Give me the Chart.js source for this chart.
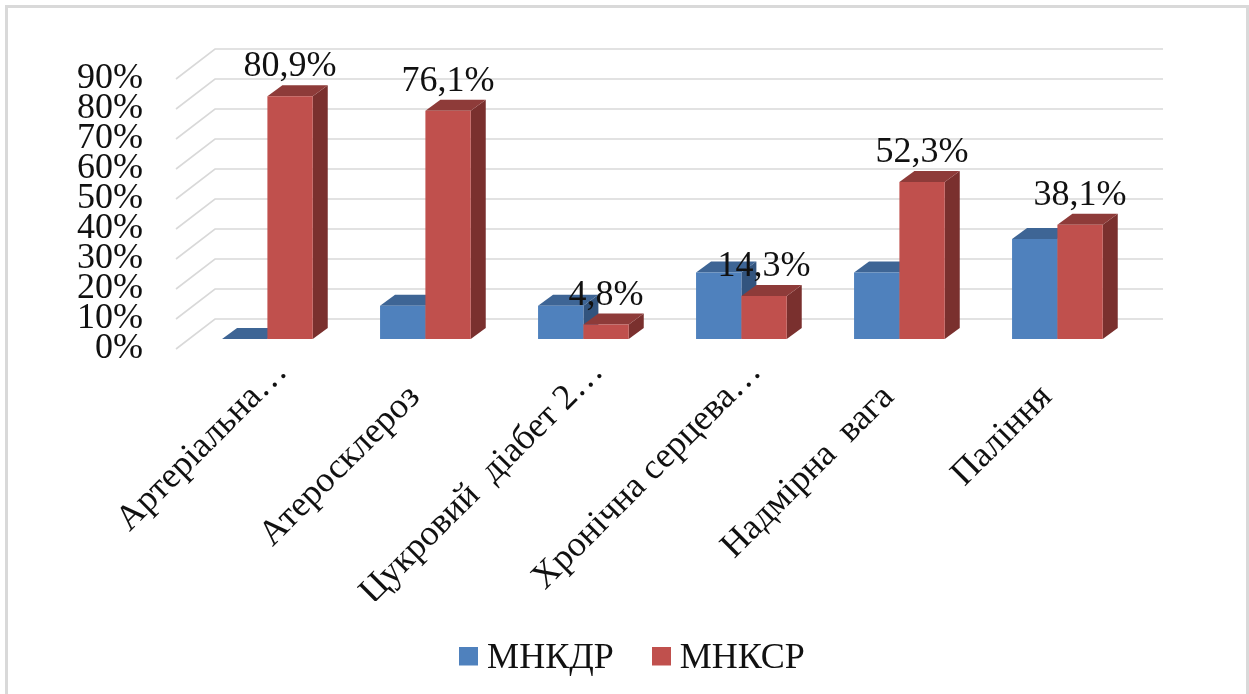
<!DOCTYPE html>
<html>
<head>
<meta charset="utf-8">
<title>МНКДР / МНКСР</title>
<script src="https://cdn.jsdelivr.net/npm/chart.js@4"></script>
<style>
    html, body { margin: 0; padding: 0; background: #fff; overflow: hidden; }
    #frame {
        position: absolute; left: 5px; top: 5px; width: 1238px; height: 689px;
        border: 3px solid #d9d9d9; border-bottom: none;
    }
    #myChart { position: absolute; left: 0; top: 0; }
</style>
</head>
<body>
<div id="frame"></div>
<canvas id="myChart" width="1249" height="694"></canvas>
<script>
const CATEGORIES = ['Артеріальна…', 'Атеросклероз', 'Цукровий  діабет 2…', 'Хронічна серцева…', 'Надмірна  вага', 'Паління'];
const MNKDR = [0, 11.1, 11.1, 22.2, 22.2, 33.3];
const MNKSR = [80.9, 76.1, 4.8, 14.3, 52.3, 38.1];

const FONT = 'Liberation Serif';
const TEXT_COLOR = '#111';

// depth of the 3d box: the wall goes back further than the bars stand
const WALL = { x: 39, y: -30 };
const BAR_SHIFT = { x: 12.4, y: -10 };
const BAR_DEPTH = { x: 15, y: -11 };

const FACES = [
    { top: '#3E6595', side: '#32547E' },
    { top: '#8E3B39', side: '#7A302E' }
];

function poly(ctx, color, pts) {
    ctx.fillStyle = color;
    ctx.beginPath();
    pts.forEach((p, i) => i ? ctx.lineTo(p[0], p[1]) : ctx.moveTo(p[0], p[1]));
    ctx.closePath();
    ctx.fill();
}

function drawFaces(ctx, meta, faces) {
    meta.data.forEach(bar => {
        const l = bar.x - bar.width / 2, r = bar.x + bar.width / 2;
        const dx = BAR_DEPTH.x, dy = BAR_DEPTH.y;
        poly(ctx, faces.side, [[r, bar.y], [r + dx, bar.y + dy], [r + dx, bar.base + dy], [r, bar.base]]);
        poly(ctx, faces.top, [[l, bar.y], [l + dx, bar.y + dy], [r + dx, bar.y + dy], [r, bar.y]]);
    });
}

// gridlines run along the floor side and then along the back wall
const wallPlugin = {
    id: 'wall',
    beforeDatasetsDraw(chart) {
        const { ctx, chartArea, scales } = chart;
        ctx.save();
        ctx.strokeStyle = '#d9d9d9';
        ctx.lineWidth = 1.6;
        scales.y.ticks.forEach(t => {
            const y = scales.y.getPixelForValue(t.value);
            ctx.beginPath();
            ctx.moveTo(chartArea.left, y);
            ctx.lineTo(chartArea.left + WALL.x, y + WALL.y);
            ctx.lineTo(chartArea.right + WALL.x, y + WALL.y);
            ctx.stroke();
        });
        ctx.restore();
    }
};

// chart.js paints the first dataset last, here the blue bars have to go
// under the red ones, so the red dataset is held back and painted afterwards
const boxPlugin = {
    id: 'box',
    beforeDatasetDraw(chart, args) {
        if (args.index === 1) return false;
        const { ctx } = chart;
        ctx.save();
        ctx.translate(BAR_SHIFT.x, BAR_SHIFT.y);
        drawFaces(ctx, args.meta, FACES[0]);
    },
    afterDatasetDraw(chart) {
        chart.ctx.restore();
    },
    afterDatasetsDraw(chart) {
        const { ctx } = chart;
        const red = chart.getDatasetMeta(1);
        ctx.save();
        ctx.translate(BAR_SHIFT.x, BAR_SHIFT.y);
        drawFaces(ctx, red, FACES[1]);
        red.controller.draw();
        ctx.restore();

        // values are shown for the second series only
        ctx.save();
        ctx.font = '36px "' + FONT + '"';
        ctx.fillStyle = TEXT_COLOR;
        ctx.textAlign = 'center';
        ctx.textBaseline = 'alphabetic';
        red.data.forEach((bar, i) => {
            const text = MNKSR[i].toFixed(1).replace('.', ',') + '%';
            ctx.fillText(text, bar.x + BAR_SHIFT.x, bar.y + BAR_SHIFT.y - 20);
        });
        ctx.restore();
    }
};

// legend sits right of where the layout would put it
const legendPlugin = {
    id: 'legendMove',
    afterLayout(chart) {
        chart.legend.left += 74.5;
        chart.legend.right += 74.5;
        chart.legend.top -= 7;
    }
};

// the empty strip under the square lifts it a little against the text
function swatch(color) {
    const c = document.createElement('canvas');
    c.width = 19;
    c.height = 25;
    const g = c.getContext('2d');
    g.fillStyle = color;
    g.fillRect(0, 0, 19, 19);
    return c;
}

new Chart(document.getElementById('myChart').getContext('2d'), {
    type: 'bar',
    data: {
        labels: CATEGORIES,
        datasets: [
            {
                label: 'МНКДР',
                data: MNKDR,
                backgroundColor: '#4F81BD',
                categoryPercentage: 0.574,
                barPercentage: 1,
                clip: false,
                pointStyle: swatch('#4F81BD')
            },
            {
                label: 'МНКСР',
                data: MNKSR,
                backgroundColor: '#C0504D',
                categoryPercentage: 0.574,
                barPercentage: 1,
                clip: false,
                pointStyle: swatch('#C0504D')
            }
        ]
    },
    options: {
        responsive: false,
        animation: false,
        layout: { padding: { left: 0, right: 125, top: 79, bottom: 0 } },
        scales: {
            x: {
                grid: { display: false, drawTicks: false },
                border: { display: false },
                ticks: {
                    autoSkip: false,
                    minRotation: 45,
                    maxRotation: 45,
                    padding: 2,
                    labelOffset: 27,
                    color: TEXT_COLOR,
                    font: { family: FONT, size: 36 },
                    // labels cut with … reach further up the diagonal than whole ones
                    callback(value) {
                        const text = this.getLabelForValue(value);
                        return text.endsWith('…') ? text : text + '    ';
                    }
                },
                afterFit(scale) { scale.height = 252; }
            },
            y: {
                min: 0,
                max: 90,
                grid: { display: false, drawTicks: false },
                border: { display: false },
                ticks: {
                    stepSize: 10,
                    autoSkip: false,
                    padding: 33,
                    color: TEXT_COLOR,
                    font: { family: FONT, size: 36 },
                    callback: v => v + '%'
                },
                afterFit(scale) { scale.width = 176; }
            }
        },
        plugins: {
            tooltip: { enabled: false },
            legend: {
                position: 'bottom',
                labels: {
                    usePointStyle: true,
                    boxWidth: 1,
                    padding: 47,
                    color: TEXT_COLOR,
                    font: { family: FONT, size: 36 }
                }
            }
        }
    },
    plugins: [wallPlugin, boxPlugin, legendPlugin]
});
</script>
</body>
</html>
